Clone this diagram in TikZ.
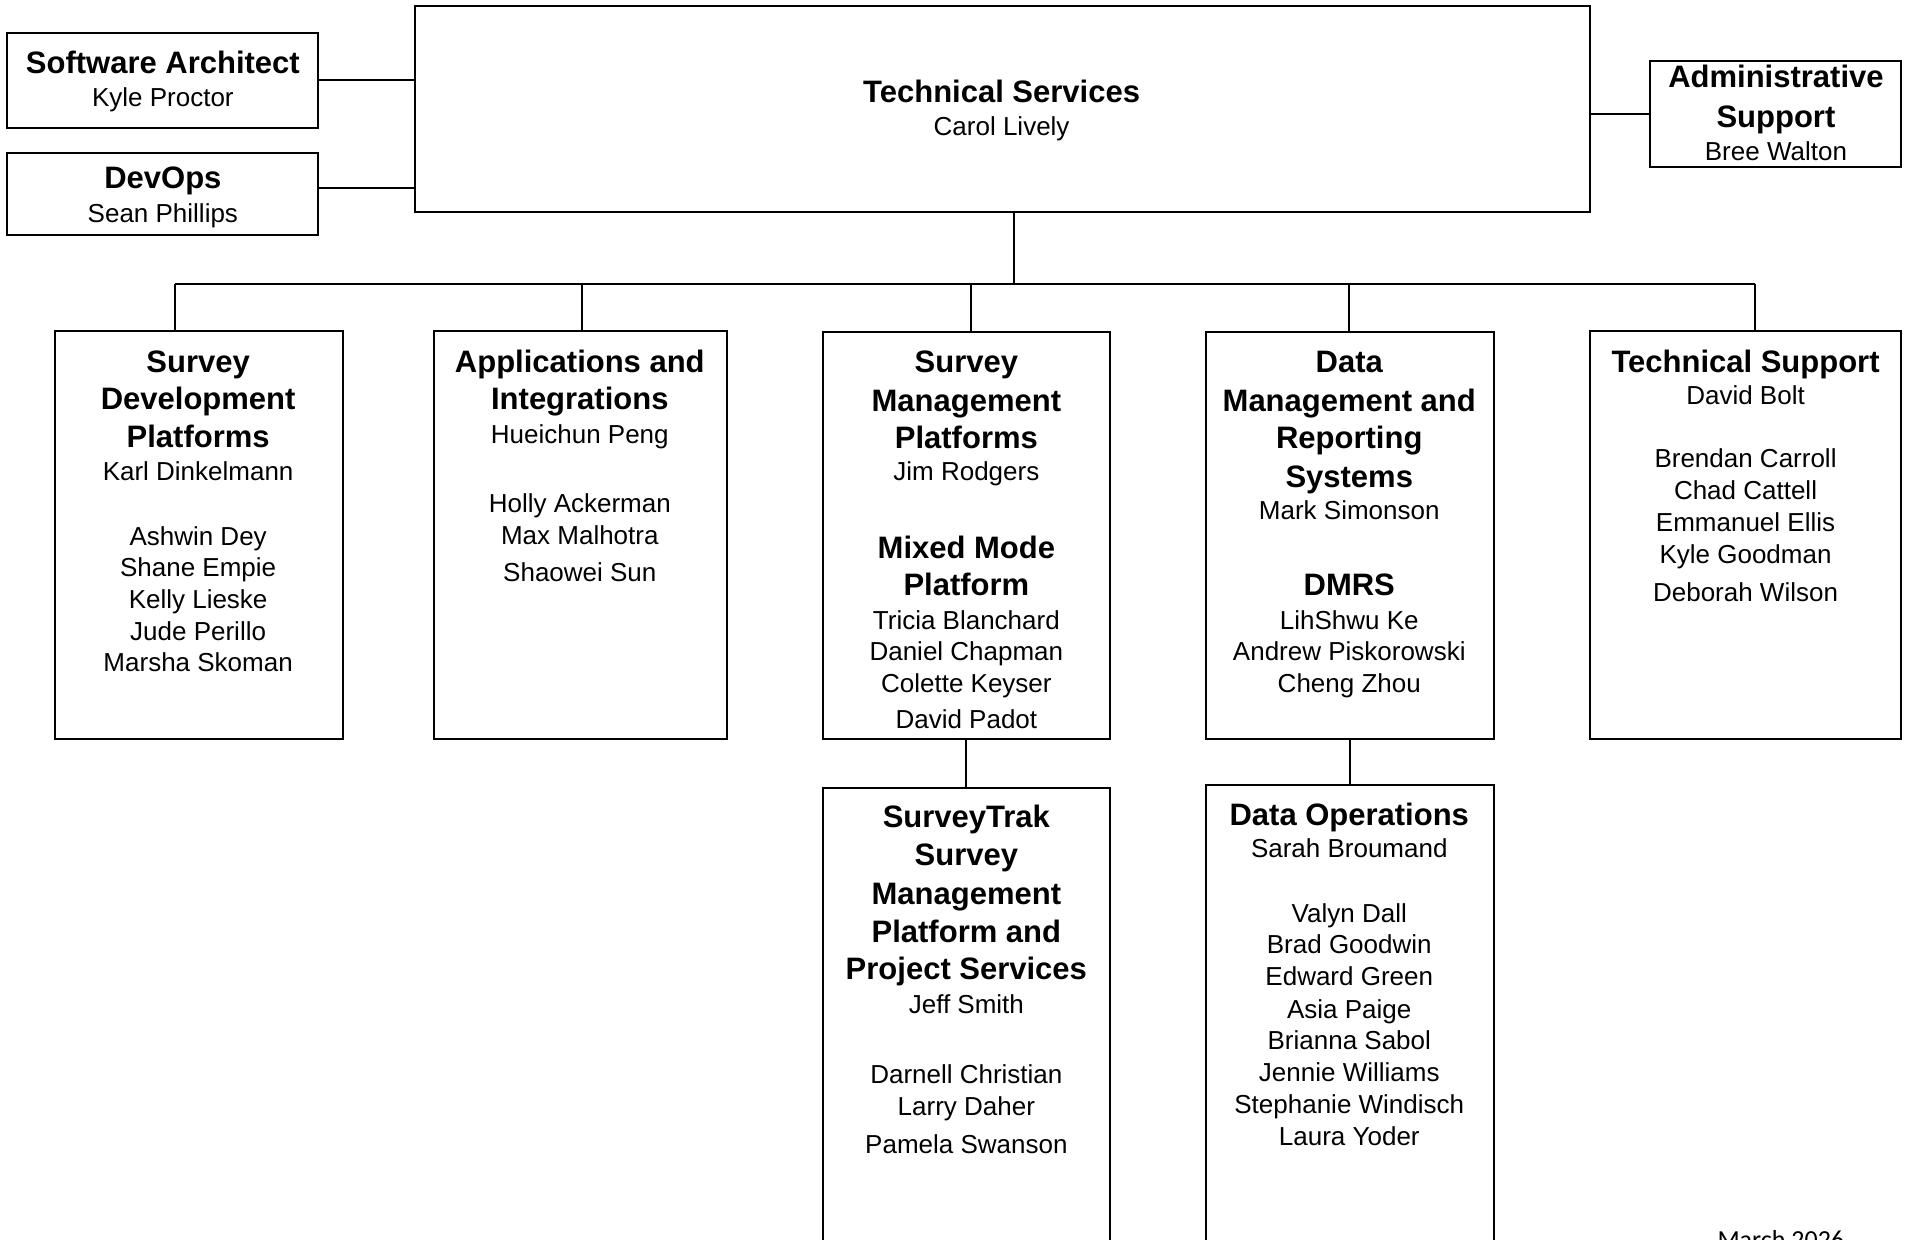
\documentclass[tikz,border=0pt]{standalone}
\usepackage{fontspec}
\setmainfont{Liberation Sans}
\newfontfamily\datefont{Carlito}
\newcommand\orgbox[5]{\node[box, minimum width={(#4-#2)*0.6078pt}, minimum height={(#5-#3)*0.6078pt}] (#1) at (#2,#3) {};}
\newcommand\tlines[4]{\foreach \lyy/\ltext [count=\lnum] in {#4} {\node[#3] (#1\lnum) at (#2,\lyy) {\ltext};}}
\begin{document}
\begin{tikzpicture}[x=0.6078pt, y=-0.6078pt,
  box/.style={draw, line width=1pt, inner sep=0pt, outer sep=0pt, anchor=north west},
  hd/.style={font=\fontsize{15.5}{18}\selectfont\bfseries, anchor=base, inner sep=0pt, yshift=-5.55pt},
  nm/.style={font=\fontsize{13}{15}\selectfont, anchor=base, inner sep=0pt, yshift=-4.65pt},
  conn/.style={line width=1pt}]
\useasboundingbox (0,0) rectangle (1568,1020);
% boxes
\orgbox{ts}{341}{5}{1308}{174}
\orgbox{sa}{6}{27}{262}{105}
\orgbox{dv}{6}{126}{262}{193}
\orgbox{ad}{1357}{50}{1564}{137}
\orgbox{s1}{45}{272}{282}{608}
\orgbox{s2}{357}{272}{598}{608}
\orgbox{s3}{677}{273}{913}{608}
\orgbox{s4}{992}{273}{1229}{608}
\orgbox{s5}{1308}{272}{1564}{608}
\orgbox{s6}{677}{648}{913}{1040}
\orgbox{s7}{992}{646}{1229}{1040}
% texts
\tlines{tsh}{824}{hd}{75/Technical Services}
\tlines{tsn}{824}{nm}{104/Carol Lively}
\tlines{sah}{134}{hd}{51/Software Architect}
\tlines{san}{134}{nm}{80/Kyle Proctor}
\tlines{dvh}{134}{hd}{146/DevOps}
\tlines{dvn}{134}{nm}{175/Sean Phillips}
\tlines{adh}{1461}{hd}{63/Administrative,96/Support}
\tlines{adn}{1461}{nm}{124/Bree Walton}
\tlines{aah}{163}{hd}{297/Survey,328/Development,359/Platforms}
\tlines{aan}{163}{nm}{388/Karl Dinkelmann,441/Ashwin Dey,467/Shane Empie,493/Kelly Lieske,519/Jude Perillo,545/Marsha Skoman}
\tlines{bbh}{477}{hd}{297/Applications and,328/Integrations}
\tlines{bbn}{477}{nm}{357/Hueichun Peng,414/Holly Ackerman,440/Max Malhotra,471/Shaowei Sun}
\tlines{cch}{795}{hd}{297/Survey,329/Management,360/Platforms,450/Mixed Mode,481/Platform}
\tlines{ccn}{795}{nm}{388/Jim Rodgers,510/Tricia Blanchard,536/Daniel Chapman,562/Colette Keyser,592/David Padot}
\tlines{ddh}{1110}{hd}{297/Data,329/Management and,360/Reporting,392/Systems,481/DMRS}
\tlines{ddn}{1110}{nm}{420/Mark Simonson,510/LihShwu Ke,536/Andrew Piskorowski,562/Cheng Zhou}
\tlines{eeh}{1436}{hd}{297/Technical Support}
\tlines{een}{1436}{nm}{325/David Bolt,377/Brendan Carroll,403/Chad Cattell,430/Emmanuel Ellis,456/Kyle Goodman,487/Deborah Wilson}
\tlines{ffh}{795}{hd}{672/SurveyTrak,703/Survey,735/Management,766/Platform and,797/Project Services}
\tlines{ffn}{795}{nm}{826/Jeff Smith,884/Darnell Christian,910/Larry Daher,941/Pamela Swanson}
\tlines{ggh}{1110}{hd}{670/Data Operations}
\tlines{ggn}{1110}{nm}{698/Sarah Broumand,751/Valyn Dall,777/Brad Goodwin,803/Edward Green,830/Asia Paige,856/Brianna Sabol,882/Jennie Williams,908/Stephanie Windisch,935/Laura Yoder}
\node[font={\datefont\fontsize{13}{15}\selectfont}, anchor=base, inner sep=0pt] (date) at (1465,1027) {March 2026};
% connectors
\draw[conn] (sa.east) -- (sa.east -| ts.west);
\draw[conn] ([yshift=2.7pt]dv.east) -- ([yshift=2.7pt]dv.east -| ts.west);
\draw[conn] (ad.west) -- (ad.west -| ts.east);
\coordinate (bus) at (834,234);
\draw[conn] (bus |- ts.south) -- (bus);
\coordinate (busl) at (144,234);
\coordinate (busr) at (1444,234);
\draw[conn] (busl) -- (busr);
\foreach \n/\xx in {s1/144, s2/479, s3/799, s4/1110, s5/1444} {
  \coordinate (d\n) at (\xx,234);
  \draw[conn] (d\n) -- (d\n |- \n.north);
}
\draw[conn] (s3.south -| s6.north) -- (s6.north);
\draw[conn] (s4.south -| s7.north) -- (s7.north);
\end{tikzpicture}
\end{document}
